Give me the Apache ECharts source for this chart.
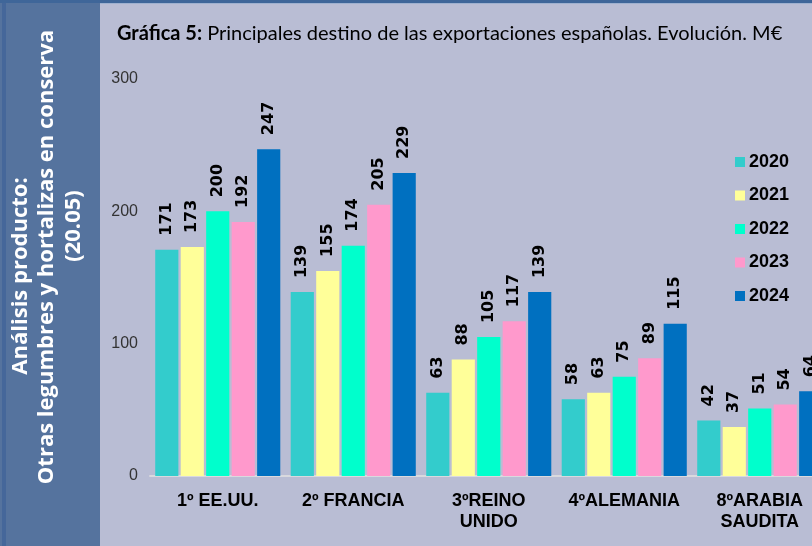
<!DOCTYPE html>
<html>
<head>
<meta charset="utf-8">
<script src="https://cdn.jsdelivr.net/npm/echarts@6/dist/echarts.min.js"></script>
<style>
  html, body { margin: 0; padding: 0; background: #B9BDD4; }
  #chart { width: 812px; height: 546px; }
</style>
</head>
<body>
<div id="chart"></div>
<script>
const categories = ['1º EE.UU.', '2º FRANCIA', '3ºREINO\nUNIDO', '4ºALEMANIA', '8ºARABIA\nSAUDITA']
const years = ['2020', '2021', '2022', '2023', '2024']
const values2020 = [171, 139, 63, 58, 42]
const values2021 = [173, 155, 88, 63, 37]
const values2022 = [200, 174, 105, 75, 51]
const values2023 = [192, 205, 117, 89, 54]
const values2024 = [247, 229, 139, 115, 64]
const yTicks = [0, 100, 200, 300]

const colors = ['#33CCCC', '#FFFF99', '#00FFCC', '#FF99CC', '#0070C0']
const allValues = [values2020, values2021, values2022, values2023, values2024]

const chart = echarts.init(document.getElementById('chart'))

const series = []
for (let i = 0; i < years.length; i++) {
    series.push({
        name: years[i],
        type: 'bar',
        data: allValues[i],
        barGap: '10%',
        barCategoryGap: '7.7%',
        itemStyle: { color: colors[i] },
        label: {
            show: true,
            position: 'top',
            rotate: 90,
            align: 'left',
            verticalAlign: 'middle',
            distance: 14,
            color: '#000',
            fontFamily: 'DejaVu Sans',
            fontWeight: 'bold',
            fontSize: 16
        }
    })
}

// texto vertical del panel izquierdo
const sideFont = 'bold 22px "Open Sans"'

const option = {
    backgroundColor: '#B9BDD4',
    animation: false,
    title: {
        left: 112,
        top: 19,
        text: '{b|Gráfica 5:} Principales destino de las exportaciones españolas. Evolución. M€',
        textStyle: {
            fontFamily: 'Lato',
            fontSize: 20,
            fontWeight: 'normal',
            color: '#000',
            rich: {
                b: { fontFamily: 'Lato', fontSize: 20, fontWeight: 'bold', color: '#000' }
            }
        }
    },
    legend: {
        data: years,
        orient: 'vertical',
        left: 730,
        top: 148,
        itemWidth: 10,
        itemHeight: 10,
        itemGap: 15.5,
        icon: 'rect',
        textStyle: {
            fontFamily: 'Liberation Sans',
            fontWeight: 'bold',
            fontSize: 18,
            color: '#000',
            padding: [0, 0, 0, -1]
        }
    },
    grid: {
        left: 150,
        right: -15.5,
        top: 79,
        bottom: 70,
        outerBoundsMode: 'none'
    },
    xAxis: {
        type: 'category',
        data: categories,
        axisLine: { lineStyle: { color: '#D9D9DE', width: 2 } },
        axisTick: { show: false },
        axisLabel: {
            interval: 0,
            margin: 15,
            fontFamily: 'Liberation Sans',
            fontWeight: 'bold',
            fontSize: 18,
            lineHeight: 21,
            color: '#000'
        }
    },
    yAxis: {
        type: 'value',
        min: yTicks[0],
        max: yTicks[yTicks.length - 1],
        interval: 100,
        axisLine: { show: false },
        axisTick: { show: false },
        splitLine: { show: false },
        axisLabel: {
            margin: 12,
            fontFamily: 'Liberation Sans',
            fontSize: 16,
            color: '#333'
        }
    },
    graphic: [
        { type: 'rect', shape: { x: 0, y: 0, width: 812, height: 3 }, style: { fill: '#3F6699' }, z: 10 },
        { type: 'rect', shape: { x: 0, y: 3, width: 812, height: 1 }, style: { fill: '#9FB1CF' }, z: 10 },
        { type: 'rect', shape: { x: 0, y: 3, width: 100, height: 543 }, style: { fill: '#55739E' }, z: 10 },
        { type: 'rect', shape: { x: 2, y: 3, width: 4, height: 543 }, style: { fill: '#45679A' }, z: 10 },
        {
            type: 'text', x: 21, y: 276, rotation: Math.PI / 2, z: 11,
            style: { text: 'Análisis producto:', fill: '#fff', font: sideFont, align: 'center', verticalAlign: 'middle' }
        },
        {
            type: 'text', x: 47, y: 257, rotation: Math.PI / 2, z: 11,
            style: { text: 'Otras legumbres y hortalizas en conserva', fill: '#fff', font: sideFont, align: 'center', verticalAlign: 'middle' }
        },
        {
            type: 'text', x: 74, y: 226, rotation: Math.PI / 2, z: 11,
            style: { text: '(20.05)', fill: '#fff', font: sideFont, align: 'center', verticalAlign: 'middle' }
        }
    ],
    series: series
}

chart.setOption(option)
</script>
</body>
</html>
